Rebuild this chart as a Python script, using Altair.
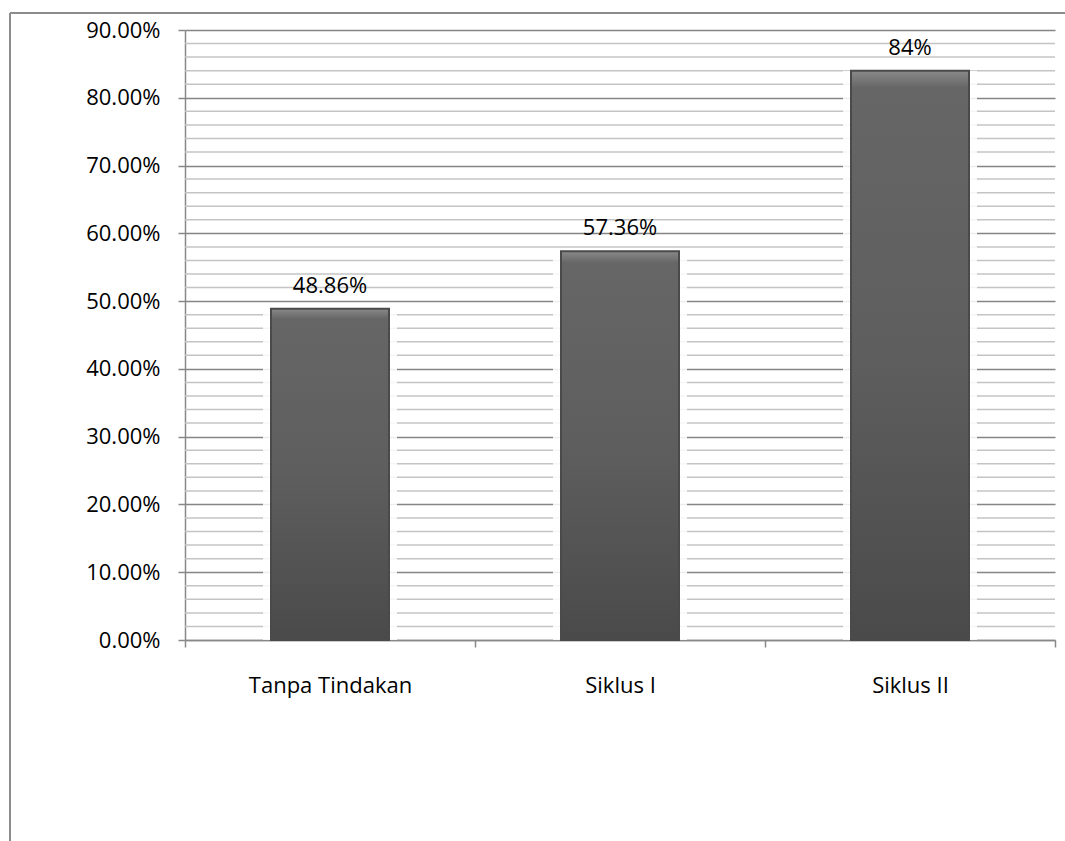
import altair as alt
import pandas as pd

categories = ["Tanpa Tindakan", "Siklus I", "Siklus II"]
values = [48.86, 57.36, 84.0]
value_labels = ["48.86%", "57.36%", "84%"]
major_ticks = [0, 10, 20, 30, 40, 50, 60, 70, 80, 90]
minor_ticks = [2, 4, 6, 8, 12, 14, 16, 18, 22, 24, 26, 28, 32, 34, 36, 38,
               42, 44, 46, 48, 52, 54, 56, 58, 62, 64, 66, 68, 72, 74, 76, 78,
               82, 84, 86, 88]

df = pd.DataFrame({"cat": categories, "val": values, "lab": value_labels})
grid_df = pd.DataFrame({"g": minor_ticks})

FONT = "Open Sans"
FS = 22
W, H = 870, 610

x_enc = alt.X("cat:N", sort=categories, title=None,
              scale=alt.Scale(paddingInner=0, paddingOuter=0),
              axis=alt.Axis(labelAngle=0, tickBand="extent", tickSize=7,
                            tickColor="#888", domainColor="#888",
                            labelFont=FONT, labelFontSize=FS, labelColor="#000",
                            labelPadding=28, labelBaseline="top", grid=False))
y_scale = alt.Scale(domain=[0, 90], nice=False, zero=True)

minor = alt.Chart(grid_df).mark_rule(color="#c4c4c4", strokeWidth=1.5).encode(
    y=alt.Y("g:Q", scale=y_scale),
)

base = alt.Chart(df)

halo = base.mark_bar(size=134, color="white", opacity=0.85).encode(
    x=x_enc,
    y=alt.Y("val:Q", scale=y_scale),
)

bars = base.mark_bar(
    size=118,
    stroke="#4a4a4a",
    strokeWidth=2,
    color=alt.Gradient(
        gradient="linear",
        stops=[alt.GradientStop(color="#8a8a8a", offset=0),
               alt.GradientStop(color="#666666", offset=0.03),
               alt.GradientStop(color="#5e5e5e", offset=0.5),
               alt.GradientStop(color="#4a4a4a", offset=1)],
        x1=0, x2=0, y1=0, y2=1),
).encode(
    x=x_enc,
    y=alt.Y("val:Q", scale=y_scale, title=None,
            axis=alt.Axis(values=major_ticks,
                          labelExpr="format(datum.value, '.2f') + '%'",
                          tickSize=7, tickColor="#888", domainColor="#888",
                          gridColor="#858585", gridWidth=1.5,
                          labelFont=FONT, labelFontSize=FS, labelColor="#000",
                          labelPadding=18)),
)

text = base.mark_text(font=FONT, fontSize=FS, color="#000",
                      baseline="bottom", dy=-11).encode(
    x=x_enc,
    y=alt.Y("val:Q", scale=y_scale),
    text="lab:N",
)

frame_top = alt.Chart(df).mark_rule(color="#8c8c8c", strokeWidth=2).encode(
    x=alt.value(-175), x2=alt.value(890), y=alt.value(-17))
frame_left = alt.Chart(df).mark_rule(color="#8c8c8c", strokeWidth=2).encode(
    x=alt.value(-175), y=alt.value(-17), y2=alt.value(820))

chart = alt.layer(minor, halo, bars, text, frame_top, frame_left).properties(
    width=W, height=H,
    autosize=alt.AutoSizeParams(type="none"),
    padding={"left": 185, "top": 30, "right": 10, "bottom": 201},
).configure_view(stroke=None).configure_axis(domainWidth=1.5, tickWidth=1.5)

chart.save("out.html", embed_options={"renderer": "svg", "actions": False})
